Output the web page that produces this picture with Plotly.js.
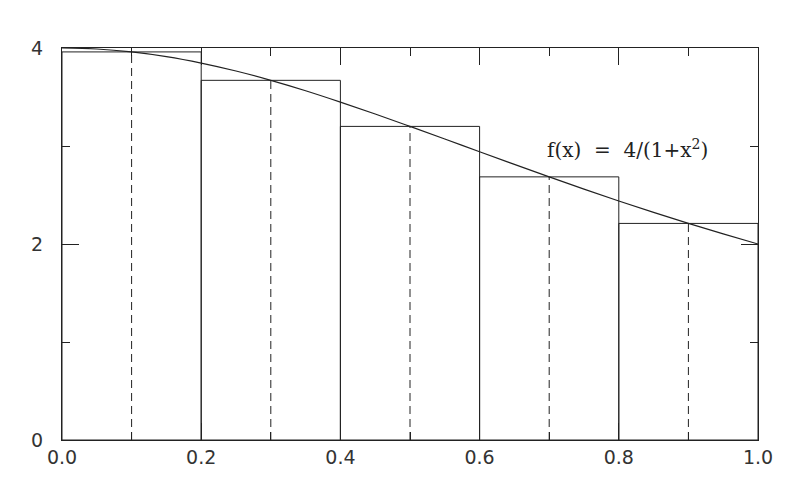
<!DOCTYPE html>
<html><head><meta charset="utf-8">
<script src="https://cdn.plot.ly/plotly-3.0.1.min.js"></script>
<style>html,body{margin:0;padding:0;background:#fff}#chart{width:804px;height:487px}</style>
</head><body><div id="chart"></div>
<script>
// Midpoint-rule rectangles
const barMid = [0.1, 0.3, 0.5, 0.7, 0.9];
const barHeight = [3.960, 3.670, 3.200, 2.685, 2.210];
const barWidth = 0.2;
// Curve f(x) = 4/(1+x^2), values read at x steps
const curveX = [0,0.05,0.1,0.15,0.2,0.25,0.3,0.35,0.4,0.45,0.5,0.55,0.6,0.65,0.7,0.75,0.8,0.85,0.9,0.95,1.0];
const curveY = [4,3.990,3.960,3.912,3.846,3.765,3.670,3.564,3.448,3.326,3.200,3.071,2.941,2.812,2.685,2.560,2.439,2.322,2.210,2.103,2.0];
const xTickVals = [0,0.2,0.4,0.6,0.8,1.0];
const xTickText = ['0.0','0.2','0.4','0.6','0.8','1.0'];
const yTickVals = [0,2,4];
const yTickText = ['0','2','4'];
const labelText = 'f(x)  =  4/(1+x<sup>2</sup>)';

const dx = [], dy = [];
barMid.forEach((m,i)=>{dx.push(m,m,null);dy.push(0,barHeight[i],null);});

const ink = '#222';
const traces = [
 {type:'bar', x:barMid, y:barHeight, width:barWidth, marker:{color:'rgba(0,0,0,0)', line:{color:ink,width:1}}, hoverinfo:'skip'},
 {type:'scatter', mode:'lines', x:dx, y:dy, line:{color:ink,width:1,dash:'8px,5px'}, hoverinfo:'skip'},
 {type:'scatter', mode:'lines', x:curveX, y:curveY, line:{color:ink,width:1.2,shape:'spline'}, hoverinfo:'skip'}
];
const font = {family:'DejaVu Sans, Liberation Sans, sans-serif', size:19, color:'#333'};
const layout = {
 width:804, height:487, margin:{l:62,r:46,t:48,b:47},
 paper_bgcolor:'#fff', plot_bgcolor:'#fff', showlegend:false, bargap:0,
 font:font,
 xaxis:{range:[0,1], tickvals:xTickVals, ticktext:xTickText, ticks:'inside', ticklen:17, tickcolor:ink, tickwidth:1,
   showline:true, linecolor:ink, linewidth:1, mirror:'ticks', showgrid:false, zeroline:false,
   minor:{dtick:0.1, tick0:0, ticks:'inside', ticklen:8, tickcolor:ink, showgrid:false}, tickfont:font, ticklabelstandoff:0},
 yaxis:{range:[0,4], tickvals:yTickVals, ticktext:yTickText, ticks:'inside', ticklen:17, tickcolor:ink, tickwidth:1,
   showline:true, linecolor:ink, linewidth:1, mirror:'ticks', showgrid:false, zeroline:false,
   minor:{dtick:1, tick0:0, ticks:'inside', ticklen:8, tickcolor:ink, showgrid:false}, tickfont:font, ticklabelstandoff:14},
 annotations:[{x:0.812, y:2.97, xref:'x', yref:'y', text:labelText, showarrow:false,
   font:{family:'DejaVu Serif, Liberation Serif, serif', size:20, color:'#222'}}]
};
Plotly.newPlot('chart', traces, layout, {staticPlot:true, displayModeBar:false});
</script></body></html>
